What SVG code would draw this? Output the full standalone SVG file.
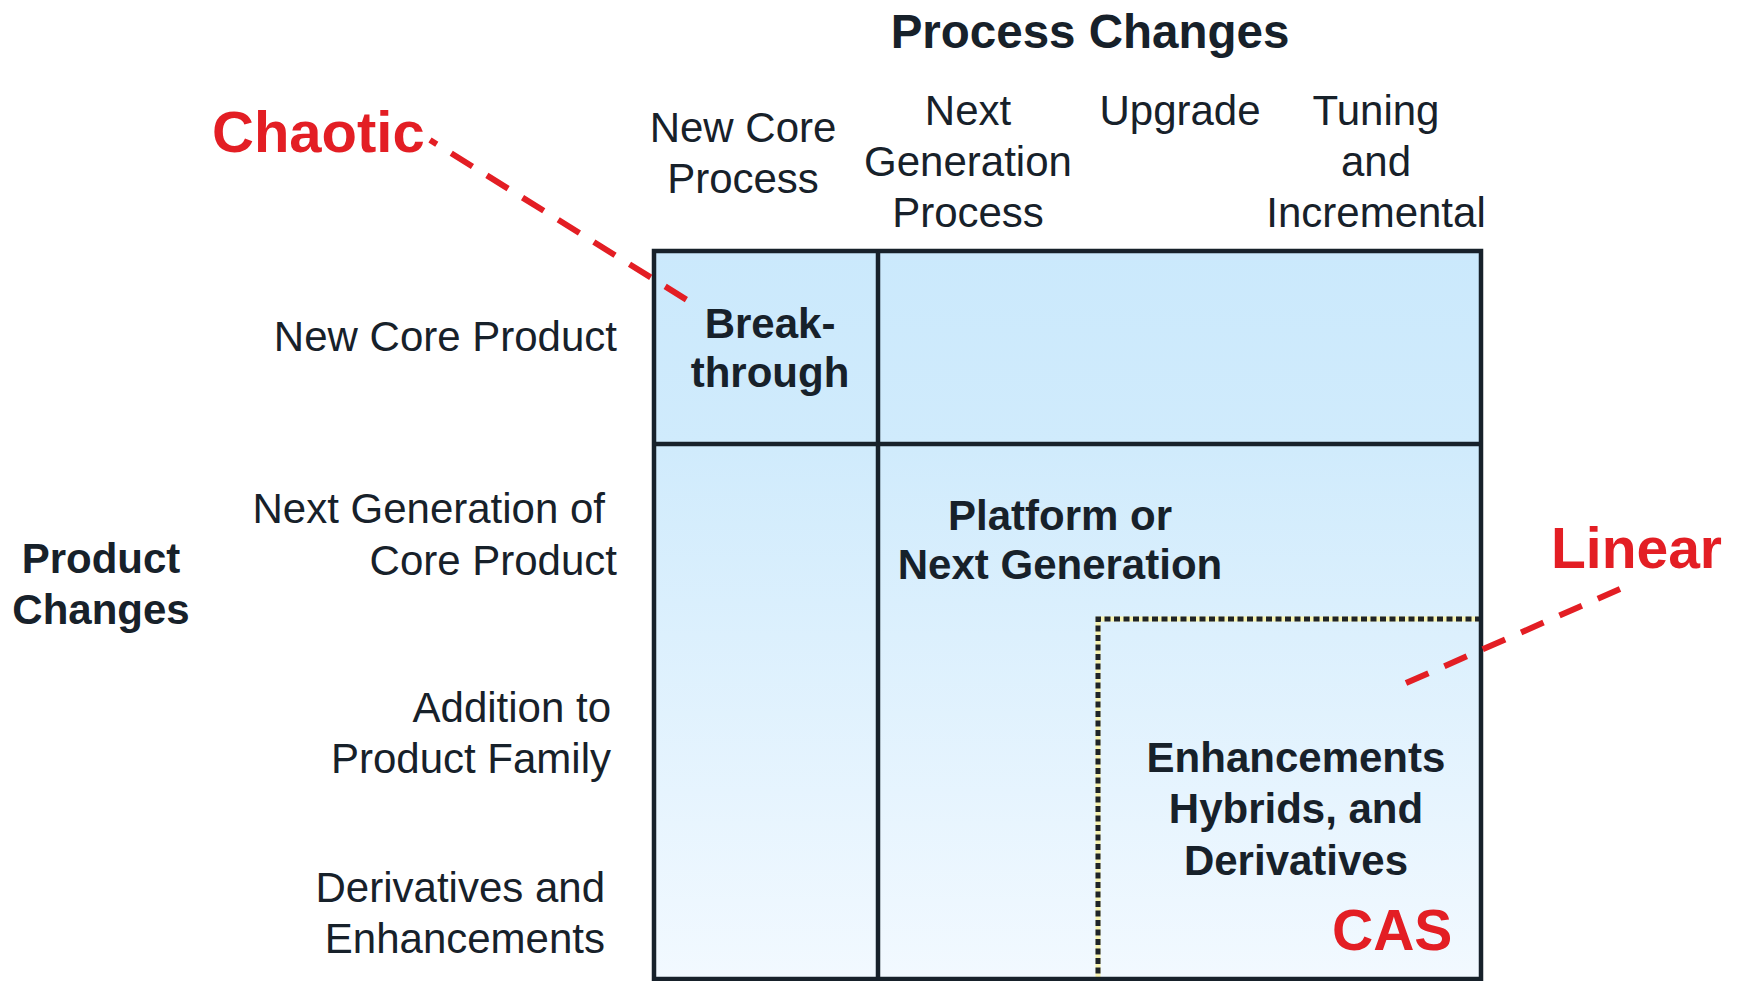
<svg xmlns="http://www.w3.org/2000/svg" width="1738" height="981" viewBox="0 0 1738 981">
  <style>
    text { font-family: "Liberation Sans", Arial, sans-serif; fill: #17212a; }
    .hdr { font-size: 42px; text-anchor: middle; }
    .row { font-size: 42px; text-anchor: end; }
    .bold { font-weight: bold; }
    .cell { font-size: 42px; font-weight: bold; text-anchor: middle; }
    .red { fill: #e31e24; font-weight: bold; }
    .grid { fill: none; stroke: #17212a; stroke-width: 4.5; }
    .lead { fill: none; stroke: #e31e24; stroke-width: 6; }
  </style>
  <defs>
    <linearGradient id="cellFill" gradientUnits="userSpaceOnUse" x1="0" y1="251" x2="0" y2="979">
      <stop offset="0" stop-color="#cbe9fc"/>
      <stop offset="0.27" stop-color="#d0ebfc"/>
      <stop offset="1" stop-color="#f2f9ff"/>
    </linearGradient>
  </defs>

  <rect width="1738" height="981" fill="#ffffff"/>

  <!-- axis titles -->
  <g id="process-changes">
    <text class="bold" x="1090" y="48" font-size="47.5" text-anchor="middle">Process Changes</text>
  </g>
  <g id="product-changes">
    <text class="hdr bold" x="101" y="573">Product</text>
    <text class="hdr bold" x="101" y="624">Changes</text>
  </g>

  <!-- column headers -->
  <g id="col-new-core-process">
    <text class="hdr" x="743" y="142">New Core</text>
    <text class="hdr" x="743" y="193">Process</text>
  </g>
  <g id="col-next-generation-process">
    <text class="hdr" x="968" y="125">Next</text>
    <text class="hdr" x="968" y="176">Generation</text>
    <text class="hdr" x="968" y="227">Process</text>
  </g>
  <g id="col-upgrade">
    <text class="hdr" x="1180" y="125">Upgrade</text>
  </g>
  <g id="col-tuning">
    <text class="hdr" x="1376" y="125">Tuning</text>
    <text class="hdr" x="1376" y="176">and</text>
    <text class="hdr" x="1376" y="227">Incremental</text>
  </g>

  <!-- row headers -->
  <g id="row-new-core-product">
    <text class="row" x="617" y="351">New Core Product</text>
  </g>
  <g id="row-next-generation">
    <text class="row" x="605" y="523">Next Generation of</text>
    <text class="row" x="617" y="575">Core Product</text>
  </g>
  <g id="row-addition">
    <text class="row" x="611" y="722">Addition to</text>
    <text class="row" x="611" y="773">Product Family</text>
  </g>
  <g id="row-derivatives">
    <text class="row" x="605" y="902">Derivatives and</text>
    <text class="row" x="605" y="953">Enhancements</text>
  </g>

  <!-- matrix -->
  <g id="matrix">
    <rect x="654" y="251" width="827" height="728" fill="url(#cellFill)"/>
    <!-- derivatives zone: pale band under a dark dashed edge -->
    <path d="M1481 619 H1098 V981" fill="none" stroke="#f6f2b0" stroke-width="5"/>
    <path d="M1481 619 H1098 V981" fill="none" stroke="#1e2328" stroke-width="5" stroke-dasharray="6 3.5"/>
    <rect class="grid" x="654" y="251" width="827" height="728"/>
    <line class="grid" x1="878" y1="251" x2="878" y2="979"/>
    <line class="grid" x1="654" y1="444" x2="1481" y2="444"/>
  </g>

  <g id="cell-breakthrough">
    <text class="cell" x="770" y="338">Break-</text>
    <text class="cell" x="770" y="387">through</text>
  </g>
  <g id="cell-platform">
    <text class="cell" x="1060" y="530">Platform or</text>
    <text class="cell" x="1060" y="579">Next Generation</text>
  </g>
  <g id="cell-enhancements">
    <text class="cell" x="1296" y="772">Enhancements</text>
    <text class="cell" x="1296" y="823">Hybrids, and</text>
    <text class="cell" x="1296" y="875">Derivatives</text>
    <text class="red" x="1332" y="950" font-size="57">CAS</text>
  </g>

  <!-- regime labels -->
  <g id="label-chaotic">
    <text class="red" x="212" y="152" font-size="58">Chaotic</text>
  </g>
  <g id="label-linear">
    <text class="red" x="1551" y="568" font-size="57">Linear</text>
  </g>

  <!-- leader lines -->
  <g id="connectors">
    <line class="lead" x1="430" y1="140" x2="687" y2="300" stroke-dasharray="25 17" stroke-dashoffset="17"/>
    <line class="lead" x1="1406" y1="683" x2="1620" y2="589" stroke-dasharray="24.5 17.4"/>
  </g>
</svg>
